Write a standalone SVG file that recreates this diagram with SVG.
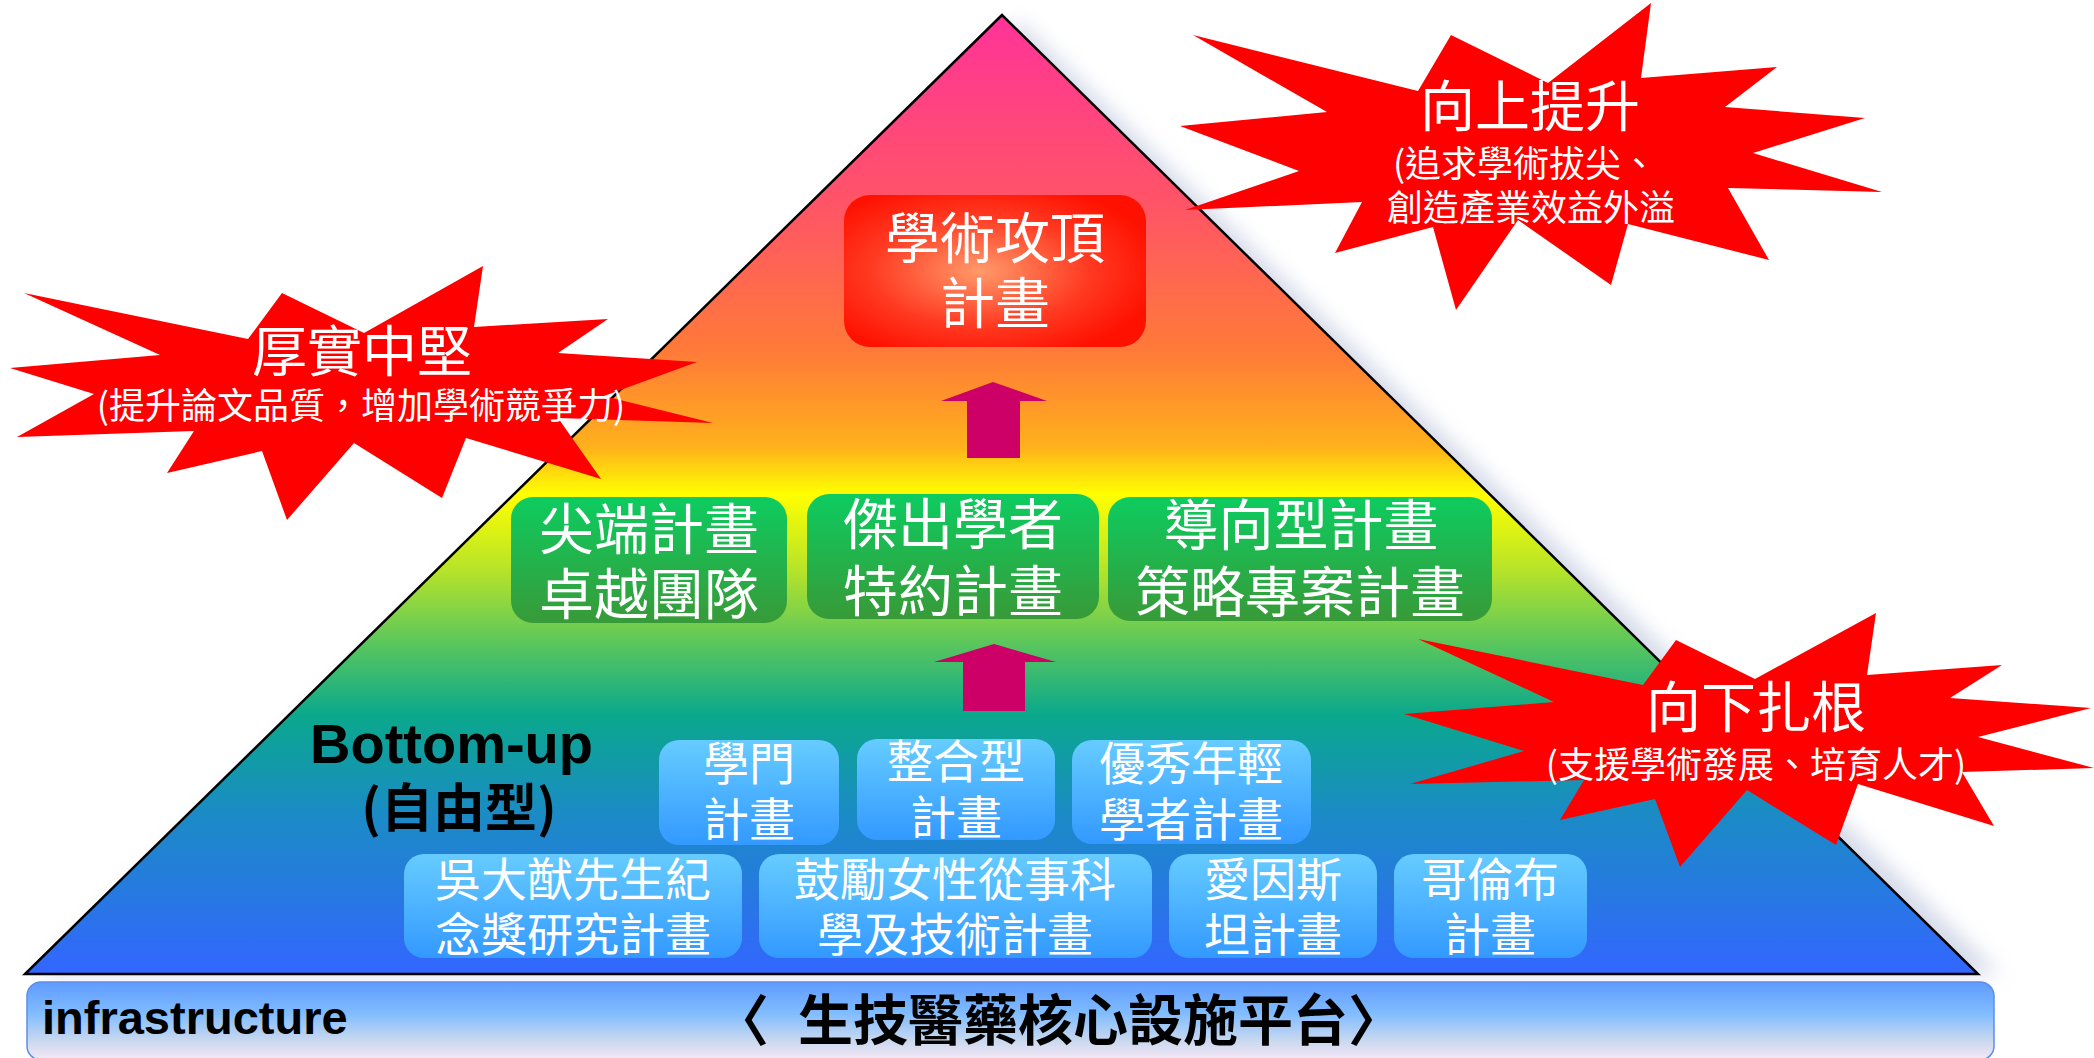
<svg xmlns="http://www.w3.org/2000/svg" width="2094" height="1058" viewBox="0 0 2094 1058">
<style>
.cjk{font-family:'Noto Sans CJK TC','Noto Sans CJK SC',sans-serif}
.lat{font-family:'Liberation Sans',Arial,sans-serif;font-weight:bold}
.w{fill:#ffffff}
.k{fill:#000000}
.mid{text-anchor:middle}
.f55{font-size:55px}
.f46{font-size:46px}
.f36{font-size:36px}
.star{fill:#ff0000}
.arrow{fill:#cc0066}
.green{fill:url(#gGreen)}
.blue{fill:url(#gBlue)}
</style>
<defs>
<linearGradient id="gTri" x1="0" y1="15" x2="0" y2="974" gradientUnits="userSpaceOnUse">
<stop offset="0" stop-color="#ff3399"/>
<stop offset="0.2" stop-color="#ff5566"/>
<stop offset="0.35" stop-color="#ff7a38"/>
<stop offset="0.45" stop-color="#ffb01c"/>
<stop offset="0.5" stop-color="#ffff00"/>
<stop offset="0.58" stop-color="#b5e32a"/>
<stop offset="0.66" stop-color="#55c460"/>
<stop offset="0.73" stop-color="#0aa88c"/>
<stop offset="0.83" stop-color="#1a8cc4"/>
<stop offset="1" stop-color="#3366ff"/>
</linearGradient>
<radialGradient id="gRed" cx="0.45" cy="0.5" r="0.6">
<stop offset="0" stop-color="#ff9a6a"/>
<stop offset="0.6" stop-color="#ff3a22"/>
<stop offset="1" stop-color="#ff1100"/>
</radialGradient>
<linearGradient id="gGreen" x1="0" y1="0" x2="0" y2="1">
<stop offset="0" stop-color="#0dcc60"/>
<stop offset="1" stop-color="#389a38"/>
</linearGradient>
<linearGradient id="gBlue" x1="0" y1="0" x2="0" y2="1">
<stop offset="0" stop-color="#66ccff"/>
<stop offset="1" stop-color="#3399ff"/>
</linearGradient>
<linearGradient id="gBar" x1="0" y1="0" x2="0" y2="1">
<stop offset="0" stop-color="#5f9bff"/>
<stop offset="0.4" stop-color="#80bcff"/>
<stop offset="0.75" stop-color="#c8d8ef"/>
<stop offset="1" stop-color="#f8e8f6"/>
</linearGradient>
<filter id="blur" x="-10%" y="-10%" width="120%" height="120%">
<feGaussianBlur stdDeviation="10"/>
</filter>
</defs>
<rect x="0" y="0" width="2094" height="1058" fill="#ffffff"/>

<g id="pyramid">
<polygon points="1020,22 40,974 2000,974" fill="#b4bcd8" opacity="0.55" filter="url(#blur)"/>
<polygon points="1002,15 25,974 1978,974" fill="url(#gTri)" stroke="#000000" stroke-width="2.5" stroke-linejoin="miter"/>
</g>

<g id="infrastructure">
<rect x="27" y="982" width="1967" height="78" rx="14" fill="url(#gBar)" stroke="#5b8ee6" stroke-width="1.5"/>
<text class="lat k" x="42" y="1034" font-size="47">infrastructure</text>
<text class="cjk k" x="714" y="1040" font-size="55" font-weight="bold">〈 <tspan x="798">生技醫藥核心設施平台〉</tspan></text>
</g>

<g id="node-top">
<rect x="844" y="195" width="302" height="152" rx="26" fill="url(#gRed)"/>
<text class="cjk w mid f55" x="995" y="258">學術攻頂<tspan x="995" dy="65">計畫</tspan></text>
</g>

<g id="node-g1">
<rect class="green" x="511" y="497" width="276" height="126" rx="22"/>
<text class="cjk w mid f55" x="649" y="549">尖端計畫<tspan x="649" dy="65">卓越團隊</tspan></text>
</g>
<g id="node-g2">
<rect class="green" x="807" y="494" width="292" height="125" rx="22"/>
<text class="cjk w mid f55" x="953" y="544">傑出學者<tspan x="953" dy="67">特約計畫</tspan></text>
</g>
<g id="node-g3">
<rect class="green" x="1108" y="497" width="384" height="124" rx="22"/>
<text class="cjk w mid f55" x="1301" y="545">導向型計畫<tspan x="1300" dy="67">策略專案計畫</tspan></text>
</g>

<g id="label-bottomup">
<text class="lat k" x="310" y="763" font-size="56">Bottom-up<tspan class="cjk mid" x="459" y="827" font-size="52">(自由型)</tspan></text>
</g>

<g id="node-b1">
<rect class="blue" x="659" y="740" width="180" height="105" rx="20"/>
<text class="cjk w mid f46" x="749" y="780">學門<tspan x="749" dy="56">計畫</tspan></text>
</g>
<g id="node-b2">
<rect class="blue" x="857" y="739" width="198" height="101" rx="20"/>
<text class="cjk w mid f46" x="956" y="778">整合型<tspan x="956" dy="56">計畫</tspan></text>
</g>
<g id="node-b3">
<rect class="blue" x="1072" y="740" width="239" height="104" rx="20"/>
<text class="cjk w mid f46" x="1191" y="780">優秀年輕<tspan x="1191" dy="56">學者計畫</tspan></text>
</g>
<g id="node-b4">
<rect class="blue" x="404" y="854" width="338" height="104" rx="20"/>
<text class="cjk w mid f46" x="573" y="896">吳大猷先生紀<tspan x="573" dy="55">念獎研究計畫</tspan></text>
</g>
<g id="node-b5">
<rect class="blue" x="759" y="854" width="393" height="104" rx="20"/>
<text class="cjk w mid f46" x="955" y="896">鼓勵女性從事科<tspan x="955" dy="55">學及技術計畫</tspan></text>
</g>
<g id="node-b6">
<rect class="blue" x="1169" y="854" width="208" height="104" rx="20"/>
<text class="cjk w mid f46" x="1273" y="896">愛因斯<tspan x="1273" dy="55">坦計畫</tspan></text>
</g>
<g id="node-b7">
<rect class="blue" x="1394" y="854" width="193" height="104" rx="20"/>
<text class="cjk w mid f46" x="1490" y="896">哥倫布<tspan x="1490" dy="55">計畫</tspan></text>
</g>

<g id="connectors">
<polygon class="arrow" points="993,382 1047,401 1020,401 1020,458 967,458 967,401 941,401"/>
<polygon class="arrow" points="994,644 1056,662 1025,662 1025,711 963,711 963,662 934,662"/>
</g>

<g id="star-left">
<polygon class="star" points="24,293 248,339 282,293 364,333 483,266 474,327 608,319 558,353 697,362 604,396 713,423 558,418 601,479 466,438 442,498 354,443 287,520 262,451 167,473 194,431 17,437 94,394 10,368 160,355"/>
<text class="cjk w mid f55" x="362" y="371">厚實中堅<tspan class="f36" x="361" y="419">(提升論文品質，增加學術競爭力)</tspan></text>
</g>

<g id="star-top">
<polygon class="star" points="1193,35 1327,112 1180,126 1299,171 1185,210 1362,202 1335,253 1433,227 1456,310 1518,220 1611,285 1628,224 1769,260 1728,188 1882,192 1753,153 1865,118 1725,107 1777,67 1641,78 1651,3 1548,83 1451,35 1418,91"/>
<text class="cjk w mid f55" x="1530" y="126">向上提升<tspan class="f36" x="1525" y="177">(追求學術拔尖、</tspan><tspan class="f36" x="1531" y="221">創造產業效益外溢</tspan></text>
</g>

<g id="star-right">
<polygon class="star" points="1418,639 1554,702 1404,714 1524,751 1410,784 1584,780 1560,820 1655,799 1680,867 1747,790 1836,845 1858,784 1994,826 1962,772 2094,768 1978,737 2091,708 1950,698 2002,665 1867,675 1876,613 1755,679 1676,640 1643,685"/>
<text class="cjk w mid f55" x="1756" y="727">向下扎根<tspan class="f36" x="1756" y="778">(支援學術發展、培育人才)</tspan></text>
</g>
</svg>
